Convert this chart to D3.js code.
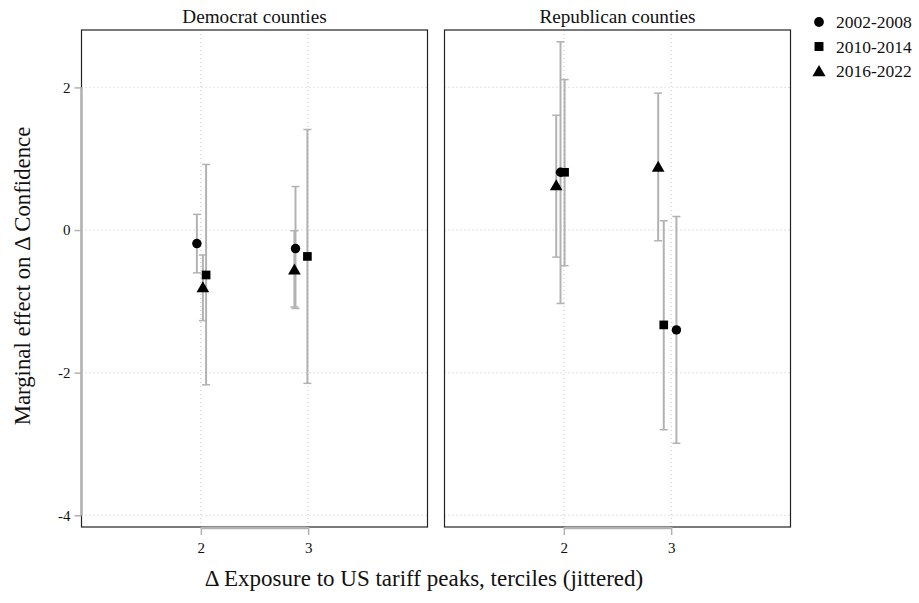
<!DOCTYPE html>
<html>
<head>
<meta charset="utf-8">
<script src="https://cdn.jsdelivr.net/npm/d3@7"></script>
<style>
  body { margin: 0; background: #fff; }
  text { font-family: "Liberation Serif", "Times New Roman", serif; fill: #111; }
</style>
</head>
<body>
<svg id="chart" width="919" height="603"></svg>
<script>
// Facets and periods
const panels = ["Democrat counties", "Republican counties"];
const periods = ["2002-2008", "2010-2014", "2016-2022"];
const shapes = [d3.symbolCircle, d3.symbolSquare, d3.symbolTriangle];

// Jittered tercile positions, estimates and 95% bounds, per panel and period
const demX    = [[1.963, 2.882], [2.049, 2.993], [2.019, 2.872]];
const demEst  = [[-0.19, -0.26], [-0.63, -0.37], [-0.80, -0.55]];
const demLo   = [[-0.60, -1.10], [-2.17, -2.15], [-1.27, -1.08]];
const demHi   = [[ 0.22,  0.61], [ 0.92,  1.41], [-0.35, -0.01]];

const repX    = [[1.969, 3.049], [2.007, 2.931], [1.929, 2.879]];
const repEst  = [[ 0.81, -1.40], [ 0.81, -1.33], [ 0.63,  0.89]];
const repLo   = [[-1.03, -2.99], [-0.50, -2.80], [-0.38, -0.15]];
const repHi   = [[ 2.64,  0.19], [ 2.11,  0.13], [ 1.61,  1.92]];

const xTicks = [2, 3];
const yTicks = [-4, -2, 0, 2];

const panelData = [
  { x: demX, est: demEst, lo: demLo, hi: demHi },
  { x: repX, est: repEst, lo: repLo, hi: repHi }
];

const serif = '"Liberation Serif", "Times New Roman", serif';
const plainNum = v => String(v);

const svg = d3.select("#chart");
const plotTop = 30, plotBottom = 527;
const panelLeft = [81.5, 444.5];
const panelW = 346;

const y = d3.scaleLinear().domain([-4.164, 2.805]).range([plotBottom, plotTop]);

const errColor = "#b2b2b2";
const gridColor = "#c8c8c8";

panels.forEach((title, pi) => {
  const x0 = panelLeft[pi];
  const x = d3.scaleLinear().domain([0.888, 4.112]).range([x0, x0 + panelW]);
  const g = svg.append("g");
  const d = panelData[pi];

  // dotted grid
  g.selectAll(".hg").data(yTicks).join("line")
    .attr("x1", x0).attr("x2", x0 + panelW)
    .attr("y1", v => y(v)).attr("y2", v => y(v))
    .attr("stroke", gridColor).attr("stroke-width", 1).attr("stroke-dasharray", "1,3");
  g.selectAll(".vg").data(xTicks).join("line")
    .attr("x1", v => x(v)).attr("x2", v => x(v))
    .attr("y1", plotTop).attr("y2", plotBottom)
    .attr("stroke", gridColor).attr("stroke-width", 1).attr("stroke-dasharray", "1,3");

  // panel frame
  g.append("rect")
    .attr("x", x0).attr("y", plotTop).attr("width", panelW).attr("height", plotBottom - plotTop)
    .attr("fill", "none").attr("stroke", "#222").attr("stroke-width", 1.2);

  // facet title
  g.append("text")
    .attr("x", x0 + panelW / 2).attr("y", 23)
    .attr("text-anchor", "middle").attr("font-size", 19.2)
    .text(title);

  // x axis: range frame between first and last tick
  const xa = g.append("g").attr("transform", `translate(0,${plotBottom})`)
    .call(d3.axisBottom(x).tickValues(xTicks).tickSize(8).tickPadding(7).tickFormat(plainNum));
  xa.attr("font-family", null);
  xa.select(".domain").remove();
  xa.selectAll(".tick line").attr("stroke", errColor).attr("stroke-width", 1.5);
  xa.selectAll(".tick text").style("font-size", "15px").style("font-family", serif).attr("fill", "#111");
  xa.append("line")
    .attr("x1", x(xTicks[0])).attr("x2", x(xTicks[xTicks.length - 1]))
    .attr("y1", 1).attr("y2", 1)
    .attr("stroke", errColor).attr("stroke-width", 2.5);

  // error bars and markers
  periods.forEach((p, si) => {
    const idx = d.x[si].map((_, k) => k);
    const capW = 4;
    g.selectAll(null).data(idx).join("line")
      .attr("x1", k => x(d.x[si][k])).attr("x2", k => x(d.x[si][k]))
      .attr("y1", k => y(d.lo[si][k])).attr("y2", k => y(d.hi[si][k]))
      .attr("stroke", errColor).attr("stroke-width", 2);
    ["lo", "hi"].forEach(b => {
      g.selectAll(null).data(idx).join("line")
        .attr("x1", k => x(d.x[si][k]) - capW).attr("x2", k => x(d.x[si][k]) + capW)
        .attr("y1", k => y(d[b][si][k])).attr("y2", k => y(d[b][si][k]))
        .attr("stroke", errColor).attr("stroke-width", 1.5);
    });
  });
  periods.forEach((p, si) => {
    const idx = d.x[si].map((_, k) => k);
    const size = si === 0 ? 70 : si === 1 ? 75 : 70;
    g.selectAll(null).data(idx).join("path")
      .attr("d", d3.symbol(shapes[si], size))
      .attr("transform", k => `translate(${x(d.x[si][k])},${y(d.est[si][k]) + (si === 2 ? 1.5 : 0)})`)
      .attr("fill", "#000");
  });
});

// y axis on the left panel: range frame from -4 to 2
const ya = svg.append("g").attr("transform", `translate(${panelLeft[0]},0)`)
  .call(d3.axisLeft(y).tickValues(yTicks).tickSize(7).tickPadding(4).tickFormat(plainNum));
ya.attr("font-family", null);
ya.select(".domain").remove();
ya.selectAll(".tick line").attr("stroke", errColor).attr("stroke-width", 1.5);
ya.selectAll(".tick text").style("font-size", "15px").style("font-family", serif).attr("fill", "#111");
ya.append("line")
  .attr("x1", 0).attr("x2", 0)
  .attr("y1", y(yTicks[0])).attr("y2", y(yTicks[yTicks.length - 1]))
  .attr("stroke", errColor).attr("stroke-width", 2.5);

// axis titles
svg.append("text")
  .attr("transform", `translate(30,276) rotate(-90)`)
  .attr("text-anchor", "middle").attr("font-size", 22.8)
  .text("Marginal effect on \u0394 Confidence");
svg.append("text")
  .attr("x", 424).attr("y", 586)
  .attr("text-anchor", "middle").attr("font-size", 23)
  .text("\u0394 Exposure to US tariff peaks, terciles (jittered)");

// legend
const lg = svg.append("g").attr("transform", "translate(819,22)");
periods.forEach((p, i) => {
  const row = lg.append("g").attr("transform", `translate(0,${i * 24.5})`);
  row.append("path")
    .attr("d", d3.symbol(shapes[i], i === 1 ? 80 : 75))
    .attr("transform", `translate(0,${i === 2 ? 1.5 : 0})`)
    .attr("fill", "#000");
  row.append("text")
    .attr("x", 17).attr("y", 6)
    .attr("font-size", 17.5)
    .text(p);
});
</script>
</body>
</html>
